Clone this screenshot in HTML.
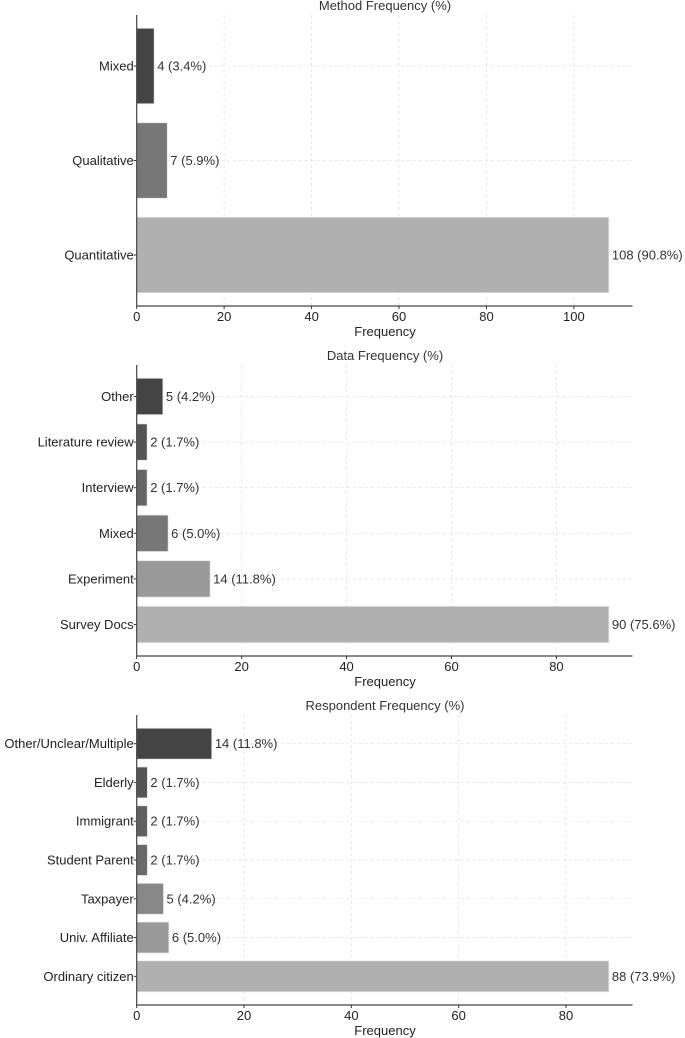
<!DOCTYPE html>
<html><head><meta charset="utf-8"><style>
html,body{margin:0;padding:0;background:#fff;}
svg{display:block;font-family:"Liberation Sans","DejaVu Sans",sans-serif;}
</style></head><body>
<svg id="chart" width="685" height="1038" viewBox="0 0 685 1038" xmlns="http://www.w3.org/2000/svg"></svg>
<script>
const methodCats = ["Quantitative","Qualitative","Mixed"];
const methodVals = [108,7,4];
const methodLabels = ["108 (90.8%)","7 (5.9%)","4 (3.4%)"];
const methodTicks = [0,20,40,60,80,100];
const dataCats = ["Survey Docs","Experiment","Mixed","Interview","Literature review","Other"];
const dataVals = [90,14,6,2,2,5];
const dataLabels = ["90 (75.6%)","14 (11.8%)","6 (5.0%)","2 (1.7%)","2 (1.7%)","5 (4.2%)"];
const dataTicks = [0,20,40,60,80];
const respCats = ["Ordinary citizen","Univ. Affiliate","Taxpayer","Student Parent","Immigrant","Elderly","Other/Unclear/Multiple"];
const respVals = [88,6,5,2,2,2,14];
const respLabels = ["88 (73.9%)","6 (5.0%)","5 (4.2%)","2 (1.7%)","2 (1.7%)","2 (1.7%)","14 (11.8%)"];
const respTicks = [0,20,40,60,80];

const NS="http://www.w3.org/2000/svg";
const svg=document.getElementById('chart');
function mk(tag,attrs,parent){const e=document.createElementNS(NS,tag);for(const k in attrs)e.setAttribute(k,attrs[k]);(parent||svg).appendChild(e);return e;}

function drawChart(cfg){
  const g=mk('g',{});
  
  
  const L=136.7,R=632.5,T=cfg.top,B=cfg.bottom;
  const xmax=Math.max(...cfg.vals)*1.05;
  const xs=v=>L+(v/xmax)*(R-L);
  const n=cfg.cats.length;
  const ymin=-0.4-0.05*(n-0.2), ymax=n-0.6+0.05*(n-0.2);
  const ys=i=>B-(i-ymin)/(ymax-ymin)*(B-T);
  const step=(B-T)/(ymax-ymin);
  const t=mk('text',{x:385,y:T-5,'text-anchor':'middle','font-size':13,fill:'#333'},g);
  t.textContent=cfg.title;
  
  
  cfg.ticks.forEach(v=>{
    const l=mk('line',{x1:xs(v),x2:xs(v),y1:T,y2:B,stroke:'#e3e3e3','stroke-dasharray':'3,3','stroke-width':0.8},g);
    
    
  });
  cfg.cats.forEach((c,i)=>{
    const l=mk('line',{x1:L,x2:R,y1:ys(i),y2:ys(i),stroke:'#e3e3e3','stroke-dasharray':'3,3','stroke-width':0.8},g);
    
    
  });
  cfg.cats.forEach((c,i)=>{
    const h=step*0.8;
    const r=mk('rect',{x:L,y:ys(i)-h/2,width:xs(cfg.vals[i])-L,height:h,fill:cfg.colors[i],stroke:'#e8e8e8','stroke-width':0.8},g);
    
    
    const vl=mk('text',{x:xs(cfg.vals[i])+3,y:ys(i)+4.5,'font-size':13,fill:'#333'},g);
    vl.textContent=cfg.labels[i];
    
    
    const cl=mk('text',{x:L-3,y:ys(i)+4.5,'text-anchor':'end','font-size':13,fill:'#222'},g);
    cl.textContent=c;
    
    
    const tk=mk('line',{x1:L-3,x2:L,y1:ys(i),y2:ys(i),stroke:'#333'},g);
    
    
  });
  const ax=mk('path',{d:`M${L} ${T}V${B}H${R}`,fill:'none',stroke:'#444','stroke-width':1.2},g);
  
  
  cfg.ticks.forEach(v=>{
    const tk=mk('line',{x1:xs(v),x2:xs(v),y1:B,y2:B+3,stroke:'#333'},g);
    
    
    const tl=mk('text',{x:xs(v),y:B+15,'text-anchor':'middle','font-size':13,fill:'#222'},g);
    tl.textContent=v;
    
    
  });
  const xt=mk('text',{x:385,y:B+30,'text-anchor':'middle','font-size':13,fill:'#222'},g);
  xt.textContent='Frequency';
  
  
}
drawChart({name:'method-chart',title:'Method Frequency (%)',top:15,bottom:306,cats:methodCats,vals:methodVals,labels:methodLabels,ticks:methodTicks,colors:['#b0b0b0','#777777','#444444']});
drawChart({name:'data-chart',title:'Data Frequency (%)',top:365,bottom:656,cats:dataCats,vals:dataVals,labels:dataLabels,ticks:dataTicks,colors:['#b0b0b0','#999999','#777777','#666666','#555555','#444444']});
drawChart({name:'respondent-chart',title:'Respondent Frequency (%)',top:715,bottom:1005,cats:respCats,vals:respVals,labels:respLabels,ticks:respTicks,colors:['#b0b0b0','#999999','#888888','#6a6a6a','#606060','#555555','#444444']});
</script>
</body></html>
